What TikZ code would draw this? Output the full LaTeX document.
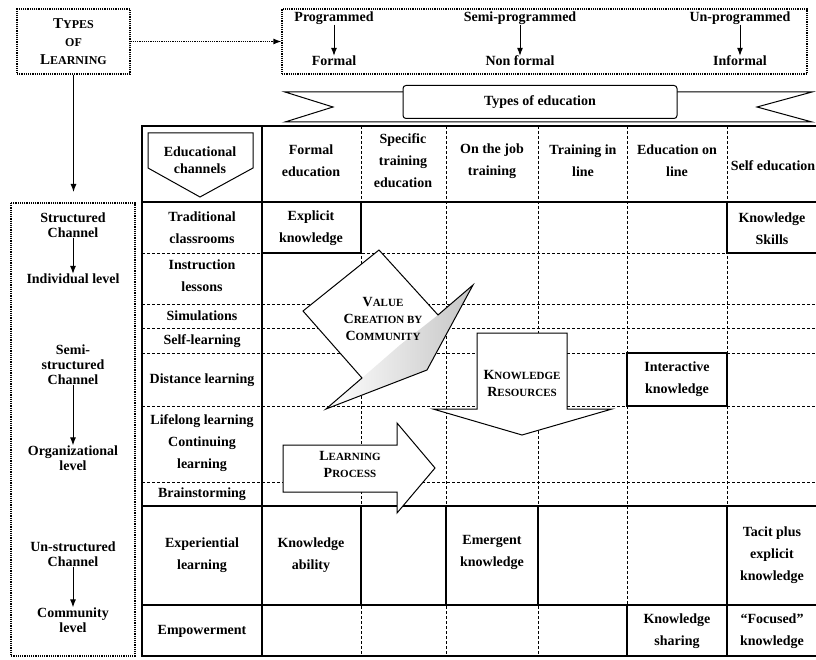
\documentclass[tikz,border=0pt]{standalone}
\usepackage{fontspec}
\setmainfont{Liberation Serif}
\usetikzlibrary{arrows.meta}
\tikzstyle{celltext} = [align=center, inner sep=0pt, font={\bfseries\fontsize{14}{22}\selectfont}]
\tikzstyle{sidetext} = [align=center, inner sep=0pt, font={\bfseries\fontsize{14}{15}\selectfont}]
\tikzstyle{sctext} = [align=center, inner sep=0pt, font={\bfseries\fontsize{11}{17}\selectfont}]
\tikzstyle{gridline} = [densely dashed, line width=0.7pt]
\tikzstyle{heavy} = [line width=2.4pt]
\tikzstyle{dotbox} = [draw, densely dotted, line width=1.2pt]
\tikzstyle{blockarrow} = [draw, fill=white, line width=1pt]
\newcommand{\fsc}[2]{{\fontsize{14}{17}\selectfont #1}#2}
\newcommand{\bigsc}[2]{{\fontsize{15}{18}\selectfont #1}#2}

\begin{document}
\begin{tikzpicture}[x=1pt, y=-1pt, >={Latex[length=8pt,width=6pt]}]
    \useasboundingbox (0,0) rectangle (816,660);
    \clip (0,0) rectangle (816,660);
    % types of learning
    \node[dotbox, sctext, minimum width=113pt, minimum height=65pt, font={\bfseries\fontsize{12}{18}\selectfont}](tol) at (73.5,41.5){\bigsc{T}{YPES}\\OF\\\bigsc{L}{EARNING}};
    \node[dotbox, minimum width=525pt, minimum height=65pt](toe) at (544.5,41.5){};
    \draw[->, densely dotted, line width=1.2pt](tol)--(toe);
    \node[celltext](prog) at (334,18){Programmed};
    \node[celltext](formal) at (334,61){Formal};
    \node[celltext](semi) at (520,18){Semi-programmed};
    \node[celltext](nonformal) at (520,61){Non formal};
    \node[celltext](unprog) at (740,18){Un-programmed};
    \node[celltext](informal) at (740,61){Informal};
    \draw[->, line width=1pt](prog)--(formal);
    \draw[->, line width=1pt](semi)--(nonformal);
    \draw[->, line width=1pt](unprog)--(informal);
    % ribbon
    \draw[line width=1pt, fill=white] (285,92)--(812,92)--(757,107)--(812,122)--(285,122)--(333,107)--cycle;
    \node[draw, line width=1pt, rounded corners=3pt, fill=white, minimum width=274pt, minimum height=33pt, celltext](typesedu) at (540,102){Types of education};
    % table
    \foreach \y in {253,304,328,353,406,482}
        \draw[gridline] (142,\y)--(830,\y);
    \foreach \x in {361,446,538,627,727}
        \draw[gridline] (\x,126)--(\x,656);
    \draw[heavy] (142,126) rectangle (830,656);
    \draw[heavy] (142,202)--(830,202);
    \draw[heavy] (142,506)--(830,506);
    \draw[heavy] (142,605)--(830,605);
    \draw[heavy] (262,126)--(262,656);
    \draw[heavy] (262,202) rectangle (361,253);
    \draw[heavy] (727,202)--(727,253)--(830,253);
    \draw[heavy] (627,353) rectangle (727,406);
    \draw[heavy] (262,506) rectangle (361,605);
    \draw[heavy] (446,506) rectangle (538,605);
    \draw[heavy] (727,506)--(727,656);
    \draw[heavy] (627,605)--(627,656);
    % header
    \draw[line width=1pt] (148,133)--(253,133)--(253,168)--(200,197)--(148,168)--cycle;
    \node[celltext, font={\bfseries\fontsize{14}{17}\selectfont}](chan) at (200,160){Educational\\channels};
    \node[celltext](hformal) at (311,161){Formal\\education};
    \node[celltext](hspec) at (403,161){Specific\\training\\education};
    \node[celltext](hjob) at (492,161){On the job\\training};
    \node[celltext](hinline) at (583,161){Training in\\line};
    \node[celltext](honline) at (677,161){Education on\\line};
    \node[celltext](hself) at (773,166){Self education};
    % channels
    \node[celltext](trad) at (202,228){Traditional\\classrooms};
    \node[celltext](instr) at (202,276){Instruction\\lessons};
    \node[celltext](simul) at (202,316){Simulations};
    \node[celltext](selfl) at (202,341){Self-learning};
    \node[celltext](dist) at (202,380){Distance learning};
    \node[celltext](life) at (202,443){Lifelong learning\\Continuing\\learning};
    \node[celltext](brain) at (202,494){Brainstorming};
    \node[celltext](exper) at (202,555){Experiential\\learning};
    \node[celltext](empow) at (202,631){Empowerment};
    % knowledge cells
    \node[celltext](explicit) at (311,228){Explicit\\knowledge};
    \node[celltext](kskills) at (772,229){Knowledge\\Skills};
    \node[celltext](interact) at (677,379){Interactive\\knowledge};
    \node[celltext](kability) at (311,555){Knowledge\\ability};
    \node[celltext](emergent) at (492,552){Emergent\\knowledge};
    \node[celltext](tacit) at (772,555){Tacit plus\\explicit\\knowledge};
    \node[celltext](ksharing) at (677,631){Knowledge\\sharing};
    \node[celltext](focused) at (772,631){“Focused”\\knowledge};
    % big arrows
    \coordinate (v1) at (379,250);
    \coordinate (v2) at (303,311);
    \coordinate (v3) at (362,378);
    \coordinate (v4) at (326,409);
    \coordinate (v5) at (427,370);
    \coordinate (v6) at (473,285);
    \coordinate (v7) at (438,315);
    \fill[white] (v1)--(v2)--(v3)--(v4)--(v5)--(v6)--(v7)--cycle;
    \shade[left color=white, right color=gray!45] (v4)--(v5)--(v6)--(v7)--(400,345)--(v3)--cycle;
    \draw[line width=1pt] (v1)--(v2)--(v3)--(v4)--(v5)--(v6)--(v7)--cycle;
    \node[sctext](vcc) at (383,319){\fsc{V}{ALUE}\\\fsc{C}{REATION BY}\\\fsc{C}{OMMUNITY}};
    \draw[blockarrow] (477,333)--(567,333)--(567,409)--(612,409)--(522,435)--(433,409)--(477,409)--cycle;
    \node[sctext](kres) at (522,383){\fsc{K}{NOWLEDGE}\\\fsc{R}{ESOURCES}};
    \draw[blockarrow] (283,445)--(397,445)--(397,423)--(435,468)--(397,513)--(397,492)--(283,492)--cycle;
    \node[sctext](lproc) at (350,464){\fsc{L}{EARNING}\\\fsc{P}{ROCESS}};
    % levels
    \coordinate (chtop) at (73.5,192);
    \draw[->, line width=1pt](tol)--(chtop);
    \draw[dotbox] (11,203) rectangle (135,656);
    \node[sidetext](struct) at (73,225){Structured\\Channel};
    \node[sidetext](indiv) at (73,279){Individual level};
    \node[sidetext](semistruct) at (73,365){Semi-\\structured\\Channel};
    \node[sidetext](organiz) at (73,458){Organizational\\level};
    \node[sidetext](unstruct) at (73,554){Un-structured\\Channel};
    \node[sidetext](commun) at (73,620){Community\\level};
    \draw[->, line width=1pt](struct)--(indiv);
    \draw[->, line width=1pt](semistruct)--(organiz);
    \draw[->, line width=1pt](unstruct)--(commun);
\end{tikzpicture}
\end{document}
